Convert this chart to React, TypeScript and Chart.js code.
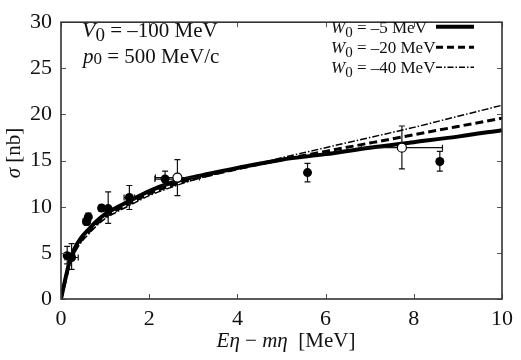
import React, { useEffect, useRef } from "react";
import { Chart, registerables } from "chart.js";

Chart.register(...registerables);

// ---- tick values ----
const xTickValues = [0, 2, 4, 6, 8, 10];
const yTickValues = [0, 5, 10, 15, 20, 25, 30];

// ---- theory curves ----
const curveX = [0, 0.1, 0.2, 0.3, 0.45, 0.6, 0.8, 1.0, 1.25, 1.5, 2, 2.5, 3, 4, 5, 6, 7, 8, 9, 10];
const solidY = [0, 2.2, 4.2, 5.4, 6.6, 7.4, 8.4, 9.2, 9.9, 10.5, 11.7, 12.6, 13.2, 14.2, 15.1, 15.7, 16.4, 17.0, 17.6, 18.3];
const dashedY = [0, 2.0, 3.9, 5.1, 6.3, 7.1, 8.1, 8.9, 9.6, 10.2, 11.4, 12.3, 13.0, 14.1, 15.1, 16.0, 16.9, 17.8, 18.7, 19.6];
const dashDotY = [0, 1.9, 3.7, 4.9, 6.1, 6.9, 7.9, 8.7, 9.4, 10.0, 11.2, 12.1, 12.9, 14.1, 15.3, 16.4, 17.5, 18.6, 19.8, 21.0];

// ---- experimental data: filled circles ----
const filledX = [0.14, 0.24, 0.58, 0.62, 0.92, 1.07, 1.55, 2.36, 5.59, 8.59];
const filledY = [4.7, 4.5, 8.4, 8.9, 9.85, 9.8, 11.0, 13.0, 13.7, 14.9];
const filledYLow = [3.8, 3.2, 8.0, 8.5, 9.5, 8.2, 9.7, 12.3, 12.7, 13.85];
const filledYHigh = [5.7, 6.0, 8.8, 9.3, 10.2, 11.6, 12.3, 13.85, 14.7, 16.0];
const filledXErr = [0, 0.15, 0.08, 0, 0.05, 0, 0.12, 0.23, 0, 0];

// ---- experimental data: open circles ----
const openX = [2.64, 7.73];
const openY = [13.16, 16.4];
const openYLow = [11.2, 14.1];
const openYHigh = [15.1, 18.75];
const openXErr = [0.5, 0.92];

// ---- labels ----
const legendLabels = ["–5 MeV", "–20 MeV", "–40 MeV"];

const SERIF = "'Liberation Serif', 'Times New Roman', serif";

type Part = { t: string; italic?: boolean; size: number; dy?: number };

function drawRich(ctx: CanvasRenderingContext2D, x: number, y: number, parts: Part[], align: string = "left") {
  const fontOf = (p: Part) => `${p.italic ? "italic " : ""}${p.size}px ${SERIF}`;
  let w = 0;
  for (const p of parts) {
    ctx.font = fontOf(p);
    w += ctx.measureText(p.t).width;
  }
  let cx = align === "center" ? x - w / 2 : align === "right" ? x - w : x;
  ctx.textAlign = "left";
  ctx.textBaseline = "alphabetic";
  for (const p of parts) {
    ctx.font = fontOf(p);
    ctx.fillText(p.t, cx, y + (p.dy || 0));
    cx += ctx.measureText(p.t).width;
  }
}

const decorPlugin = {
  id: "decor",
  beforeDatasetDraw(chart: any, args: any) {
    if (args.index !== 1) return;
    const ctx = chart.ctx as CanvasRenderingContext2D;
    const xs = chart.scales.x;
    const ys = chart.scales.y;
    ctx.save();
    ctx.strokeStyle = "#111";
    ctx.lineWidth = 1.2;
    const cap = 3;
    const drawBars = (X: number[], Y: number[], lo: number[], hi: number[], xe: number[]) => {
      for (let i = 0; i < X.length; i++) {
        const px = xs.getPixelForValue(X[i]);
        const py = ys.getPixelForValue(Y[i]);
        const pLo = ys.getPixelForValue(lo[i]);
        const pHi = ys.getPixelForValue(hi[i]);
        ctx.beginPath();
        ctx.moveTo(px, pLo);
        ctx.lineTo(px, pHi);
        ctx.moveTo(px - cap, pLo);
        ctx.lineTo(px + cap, pLo);
        ctx.moveTo(px - cap, pHi);
        ctx.lineTo(px + cap, pHi);
        if (xe[i] > 0) {
          const l = xs.getPixelForValue(X[i] - xe[i]);
          const r = xs.getPixelForValue(X[i] + xe[i]);
          ctx.moveTo(l, py);
          ctx.lineTo(r, py);
          ctx.moveTo(l, py - cap);
          ctx.lineTo(l, py + cap);
          ctx.moveTo(r, py - cap);
          ctx.lineTo(r, py + cap);
        }
        ctx.stroke();
      }
    };
    drawBars(filledX, filledY, filledYLow, filledYHigh, filledXErr);
    drawBars(openX, openY, openYLow, openYHigh, openXErr);
    ctx.restore();
  },
  afterDraw(chart: any) {
    const ctx = chart.ctx as CanvasRenderingContext2D;
    const a = chart.chartArea;
    const xs = chart.scales.x;
    const ys = chart.scales.y;
    ctx.save();
    // inward ticks
    ctx.strokeStyle = "#555";
    ctx.lineWidth = 1;
    const tl = 5;
    ctx.beginPath();
    for (const v of xTickValues) {
      const px = Math.round(xs.getPixelForValue(v)) + 0.5;
      ctx.moveTo(px, a.bottom);
      ctx.lineTo(px, a.bottom - tl);
      ctx.moveTo(px, a.top);
      ctx.lineTo(px, a.top + tl);
    }
    for (const v of yTickValues) {
      const py = Math.round(ys.getPixelForValue(v)) + 0.5;
      ctx.moveTo(a.left, py);
      ctx.lineTo(a.left + tl, py);
      ctx.moveTo(a.right, py);
      ctx.lineTo(a.right - tl, py);
    }
    ctx.stroke();
    // frame
    ctx.strokeStyle = "#333";
    ctx.lineWidth = 1.6;
    ctx.strokeRect(a.left, a.top, a.right - a.left, a.bottom - a.top);

    ctx.fillStyle = "#111";
    // annotations
    drawRich(ctx, 82, 37, [
      { t: "V", italic: true, size: 22 },
      { t: "0", size: 19, dy: 4 },
      { t: " = –100 MeV", size: 21 },
    ]);
    drawRich(ctx, 83, 63, [
      { t: "p", italic: true, size: 21 },
      { t: "0", size: 17, dy: 1 },
      { t: " = 500 MeV/c", size: 21 },
    ]);
    // legend
    const baselines = [33.3, 53.3, 73.3];
    const lineY = [26.7, 47.3, 67.3];
    const styles = [
      { w: 4, dash: [] as number[] },
      { w: 3, dash: [7, 4] },
      { w: 1.5, dash: [6, 2, 1.5, 2] },
    ];
    for (let i = 0; i < 3; i++) {
      drawRich(ctx, 331, baselines[i], [
        { t: "W", italic: true, size: 17 },
        { t: "0", size: 15, dy: 4 },
        { t: " = " + legendLabels[i], size: 17 },
      ]);
      ctx.strokeStyle = "#000";
      ctx.lineWidth = styles[i].w;
      ctx.setLineDash(styles[i].dash);
      ctx.beginPath();
      ctx.moveTo(436, lineY[i]);
      ctx.lineTo(474, lineY[i]);
      ctx.stroke();
    }
    ctx.setLineDash([]);
    // axis titles
    drawRich(ctx, 286, 347, [
      { t: "E", italic: true, size: 21 },
      { t: "η", italic: true, size: 21 },
      { t: " − ", size: 21 },
      { t: "m", italic: true, size: 21 },
      { t: "η", italic: true, size: 21 },
      { t: "  [MeV]", size: 21 },
    ], "center");
    ctx.save();
    ctx.translate(20, 153);
    ctx.rotate(-Math.PI / 2);
    drawRich(ctx, 0, 0, [
      { t: "σ", italic: true, size: 21 },
      { t: " [nb]", size: 21 },
    ], "center");
    ctx.restore();
    ctx.restore();
  },
};

export default function App() {
  const ref = useRef<HTMLCanvasElement | null>(null);
  useEffect(() => {
    document.body.style.margin = "0";
    const canvas = ref.current;
    if (!canvas) return;
    const pts = (xs: number[], ys: number[]) => xs.map((x, i) => ({ x, y: ys[i] }));
    const chart = new Chart(canvas, {
      type: "scatter",
      data: {
        datasets: [
          {
            label: "filled",
            data: pts(filledX, filledY),
            backgroundColor: "#000",
            borderColor: "#000",
            pointRadius: 4.5,
            pointBorderWidth: 0,
            showLine: false,
          },
          {
            label: "open",
            data: pts(openX, openY),
            backgroundColor: "#fff",
            borderColor: "#000",
            pointRadius: 4.5,
            pointBorderWidth: 1.2,
            showLine: false,
          },
          {
            label: "W0 = -5 MeV",
            data: pts(curveX, solidY),
            showLine: true,
            borderColor: "#000",
            borderWidth: 4,
            pointRadius: 0,
            cubicInterpolationMode: "monotone",
          },
          {
            label: "W0 = -20 MeV",
            data: pts(curveX, dashedY),
            showLine: true,
            borderColor: "#000",
            borderWidth: 3,
            borderDash: [8, 4],
            pointRadius: 0,
            cubicInterpolationMode: "monotone",
          },
          {
            label: "W0 = -40 MeV",
            data: pts(curveX, dashDotY),
            showLine: true,
            borderColor: "#000",
            borderWidth: 1.5,
            borderDash: [7, 2, 1.5, 2],
            pointRadius: 0,
            cubicInterpolationMode: "monotone",
          },
        ],
      } as any,
      options: {
        responsive: false,
        animation: false,
        layout: { padding: { top: 10, right: 19, left: 0, bottom: 0 } },
        plugins: { legend: { display: false }, tooltip: { enabled: false } },
        scales: {
          x: {
            type: "linear",
            min: 0,
            max: 10,
            afterFit: (s: any) => { s.height = 61; },
            afterBuildTicks: (s: any) => { s.ticks = xTickValues.map((v) => ({ value: v })); },
            grid: { display: false, drawTicks: false },
            border: { display: false },
            ticks: {
              autoSkip: false,
              maxRotation: 0,
              padding: 7,
              color: "#111",
              font: { family: SERIF, size: 22 },
            },
          },
          y: {
            type: "linear",
            min: 0,
            max: 30,
            afterFit: (s: any) => { s.width = 61; },
            afterBuildTicks: (s: any) => { s.ticks = yTickValues.map((v) => ({ value: v })); },
            grid: { display: false, drawTicks: false },
            border: { display: false },
            ticks: {
              autoSkip: false,
              padding: 9,
              color: "#111",
              font: { family: SERIF, size: 22 },
            },
          },
        },
      } as any,
      plugins: [decorPlugin],
    });
    return () => chart.destroy();
  }, []);
  return <canvas ref={ref} width={521} height={360} style={{ display: "block" }} />;
}
